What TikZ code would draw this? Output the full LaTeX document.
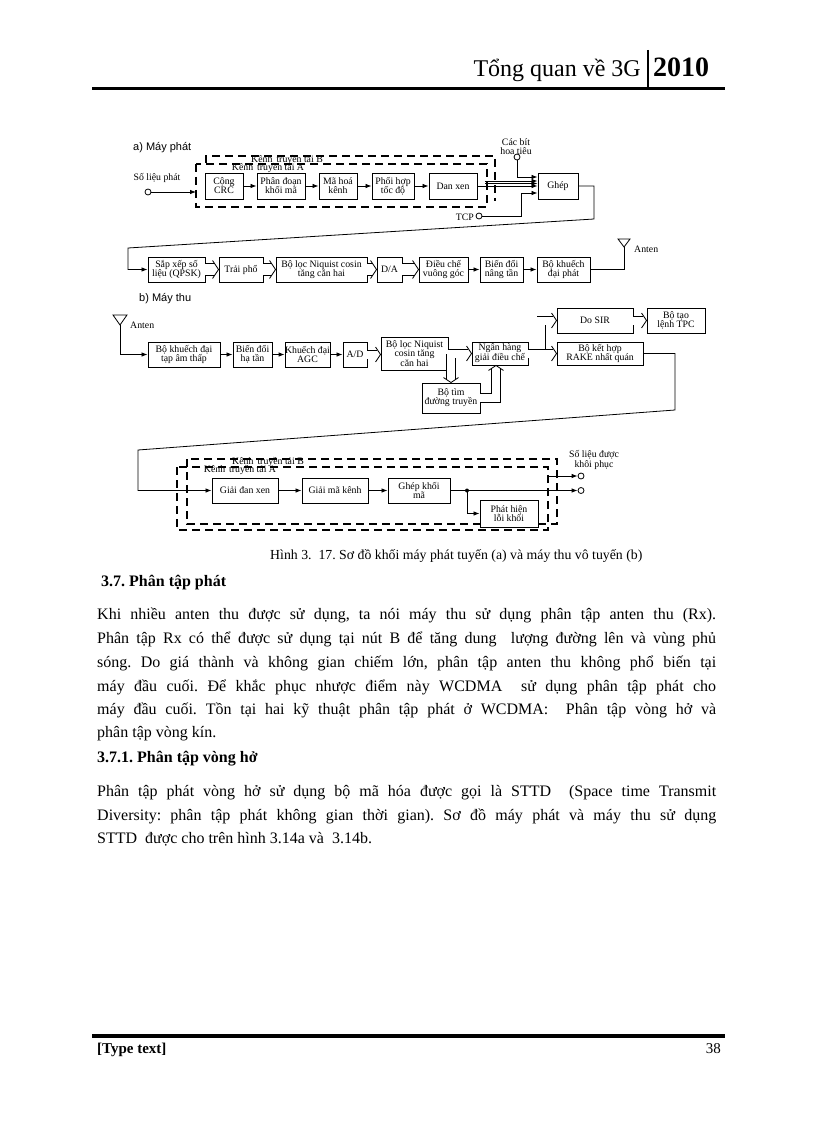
\documentclass[tikz,border=0pt]{standalone}
\usepackage{fontspec}
\setmainfont{Liberation Serif}
\newfontfamily\arialf{Liberation Sans}
\usetikzlibrary{arrows.meta,calc}
\newcommand\bodyf{\fontsize{16}{16}\selectfont}
\frenchspacing
\begin{document}
\begin{tikzpicture}[x=1pt,y=-1pt,
  blk/.style={draw, line width=0.9pt, inner sep=0pt, align=center, fill=white,
    font=\fontsize{9.8}{9.2}\selectfont},
  bsz/.style 2 args={minimum width=#1pt, minimum height=#2pt},
  arr/.style={line width=0.8pt, -{Latex[length=6pt,width=4.5pt]}},
  ln/.style={line width=0.8pt},
  dblA/.style={line width=0.8pt, double, double distance=11pt, shorten >=4.2pt},
  dblB/.style={line width=0.8pt, double, double distance=8pt, shorten >=3.2pt},
  chevA/.pic={\draw[line width=0.8pt, line join=miter] (-6,-9) -- (0,0) -- (-6,9);},
  chevB/.pic={\draw[line width=0.8pt, line join=miter] (-5,-7.5) -- (0,0) -- (-5,7.5);},
  dsh/.style={line width=1.3pt, dash pattern=on 8pt off 5pt},
  lbl/.style={inner sep=0pt, align=center, font=\fontsize{9.8}{9.2}\selectfont},
  term/.style={circle, draw, line width=0.8pt, inner sep=0pt, minimum size=6pt, fill=white},
  txt/.style={inner sep=0pt, anchor=base west, font=\bodyf},
]
\useasboundingbox (0,0) rectangle (816,1123);
\fill[white] (0,0) rectangle (816,1123);

% ---------- header ----------
\node[inner sep=0pt, anchor=base east, font=\fontsize{24}{24}\selectfont] (hdr) at (641,77) {Tổng quan về 3G};
\node[inner sep=0pt, anchor=base west, font=\fontsize{28}{28}\selectfont\bfseries] (year) at (653,77) {2010};
\draw[line width=2pt] (648,50) -- (648,89);
\draw[line width=3pt] (92,89) -- (725,89);

% ---------- (a) transmitter ----------
\node[inner sep=0pt, anchor=base west, font=\arialf\fontsize{11}{11}\selectfont] (la) at (133,151) {a) Máy phát};

\draw[dsh] (196,164) rectangle (487,207);
\draw[dsh] (206,163) -- (206,156) -- (495,156) -- (495,201);
\node[lbl] (kb1) at (287,160) {Kênh\, truyền tải B};
\node[lbl] (ka1) at (268,168) {Kênh\, truyền tải A};

\node[blk, bsz={38}{26}] (crc) at (224,186) {Cộng\\CRC};
\node[blk, bsz={48}{26}] (pd) at (281,186) {Phân đoạn\\khối mã};
\node[blk, bsz={38}{26}] (mhk) at (338,186) {Mã hoá\\kênh};
\node[blk, bsz={42}{26}] (ph) at (393,186) {Phối hợp\\tốc độ};
\node[blk, bsz={48}{26}] (dx) at (453,186) {Dan xen};
\node[blk, bsz={40}{26}] (ghep) at (558,186) {Ghép};

\node[lbl] (slp) at (157,178) {Số liệu phát};
\node[term] (src) at (148,192) {};
\coordinate (aL) at (196,192);
\draw[arr] (src) -- (aL);
\draw[arr] (crc) -- (pd);
\draw[arr] (pd) -- (mhk);
\draw[arr] (mhk) -- (ph);
\draw[arr] (ph) -- (dx);
\draw[arr] (dx.east) -- (ghep.west);
\coordinate (b1) at (485,181);
\coordinate (b2) at (485,183.5);
\draw[arr] (b1) -- (b1 -| ghep.west);
\draw[arr] (b2) -- (b2 -| ghep.west);

\node[lbl] (pilt) at (516,147) {Các bít\\hoa tiêu};
\node[term] (pil) at (517,157) {};
\draw[arr] (pil) |- ($(ghep.west)+(0,-9)$);
\node[term] (tcp) at (479,216) {};
\node[lbl, anchor=east] (tcpl) at (474,217) {TCP};
\draw[arr] (tcp.east) -- ++(39,0) |- ($(ghep.west)+(0,7)$);

\coordinate (g1) at (594,219);
\coordinate (g2) at (128,248);
\node[blk, bsz={57}{25}] (sx) at (176.5,269.5) {Sắp xếp số\\liệu (QPSK)};
\draw[arr] (ghep.east) -| (g1) -- (g2) |- (sx.west);

\node[blk, bsz={44}{25}] (tp) at (241,269.5) {Trải phổ};
\node[blk, bsz={91}{25}] (bl) at (321.5,269.5) {Bộ lọc Niquist cosin\\tăng căn hai};
\node[blk, bsz={25}{25}] (da) at (389.5,269.5) {D/A};
\node[blk, bsz={49}{25}] (dc) at (443.5,269.5) {Điều chế\\vuông góc};
\node[blk, bsz={43}{25}] (bd) at (501.5,269.5) {Biến đổi\\nâng tần};
\node[blk, bsz={53}{25}] (bk) at (563.5,269.5) {Bộ khuếch\\đại phát};

\draw[dblA] (sx) -- (tp);  \pic at (tp.west) {chevA};
\draw[dblA] (tp) -- (bl);  \pic at (bl.west) {chevA};
\draw[dblA] (bl) -- (da);  \pic at (da.west) {chevA};
\draw[dblA] (da) -- (dc);  \pic at (dc.west) {chevA};
\draw[arr] (dc) -- (bd);
\draw[arr] (bd) -- (bk);

\coordinate (ant1) at (624,247);
\draw[ln] (bk.east) -| (ant1);
\draw[ln] (618,239) -- (630,239) -- (ant1) -- cycle;
\node[lbl, anchor=west] (an1) at (634,249) {Anten};

% ---------- (b) receiver ----------
\node[inner sep=0pt, anchor=base west, font=\arialf\fontsize{11}{11}\selectfont] (lb) at (139,301) {b) Máy thu};

\coordinate (ant2) at (120,325);
\draw[ln] (113,315) -- (127,315) -- (ant2) -- cycle;
\node[lbl, anchor=west] (an2) at (130,325) {Anten};

\node[blk, bsz={72}{25}] (lna) at (184,354.5) {Bộ khuếch đại\\tạp âm thấp};
\node[blk, bsz={39}{25}] (hd) at (252.5,354.5) {Biến đổi\\hạ tần};
\node[blk, bsz={43}{25}] (agc) at (307.5,354.5) {Khuếch đại\\AGC};
\node[blk, bsz={24}{25}] (ad) at (355,354.5) {A/D};
\node[blk, bsz={67}{33}] (bl2) at (414.5,353.5) {Bộ lọc Niquist\\cosin tăng\\căn hai};
\node[blk, bsz={56}{23}] (nh) at (500,353.5) {Ngân hàng\\giải điều chế};
\node[blk, bsz={58}{30}] (bt) at (451,398) {Bộ tìm\\đường truyền};
\node[blk, bsz={76}{25}] (sir) at (595,320.5) {Do SIR};
\node[blk, bsz={58}{25}] (tpc) at (676,320.5) {Bộ tạo\\lệnh TPC};
\node[blk, bsz={86}{23}] (rake) at (600,353.5) {Bộ kết hợp\\RAKE nhất quán};

\draw[arr] (ant2) |- (lna.west);
\draw[arr] (lna) -- (hd);
\draw[arr] (hd) -- (agc);
\draw[arr] (agc.east) -- (agc.east -| ad.west);
\draw[dblB] (ad.east) -- (ad.east -| bl2.west);  \pic at (ad.east -| bl2.west) {chevB};
\coordinate (j1) at (bt.north |- bl2.east);
\draw[dblB] (j1) -- (bt.north);  \pic[rotate=-90] at (bt.north) {chevB};
\draw[dblB] (bl2.east) -- (nh.west);  \pic at (nh.west) {chevB};
\coordinate (nhs) at ($(nh.south)+(-4,0)$);
\draw[dblB] (bt.east) -| (nhs);  \pic[rotate=90] at (nhs) {chevB};
\coordinate (j2) at ($(nh.east)+(13,0)$);
\draw[dblB] (j2) |- (sir.west);  \pic at (sir.west) {chevB};
\draw[dblB] (nh.east) -- (rake.west);  \pic at (rake.west) {chevB};
\draw[dblB] (sir) -- (tpc);  \pic at (tpc.west) {chevB};

\coordinate (r1) at (675,410);
\coordinate (r2) at (138,450);
\node[blk, bsz={66}{25}] (gdx) at (245,490.5) {Giải đan xen};
\draw[arr] (rake.east) -| (r1) -- (r2) |- (gdx.west);

\draw[dsh] (177,467) rectangle (548,530);
\draw[dsh] (187,459) rectangle (557,524);
\node[lbl] (kb2) at (268,462) {Kênh\, truyền tải B};
\node[lbl] (ka2) at (240,470) {Kênh\, truyền tải A};

\node[blk, bsz={66}{25}] (gmk) at (335,490.5) {Giải mã kênh};
\node[blk, bsz={62}{25}] (gkm) at (419,490.5) {Ghép khối\\mã};
\node[blk, bsz={58}{27}] (phl) at (509,513.5) {Phát hiện\\lỗi khối};
\draw[arr] (gdx) -- (gmk);
\draw[arr] (gmk) -- (gkm);

\node[term] (o1) at (581,476) {};
\node[term] (o2) at (581,490.5) {};
\coordinate (dt) at (467,490.5);
\coordinate (c1) at (548,476);
\draw[arr] (gkm.east) -- (o2.west);
\fill (dt) circle[radius=2pt];
\draw[arr] (dt) |- (phl.west);
\draw[arr] (c1) -- (o1.west);
\node[lbl] (sld) at (594,460) {Số liệu được\\khôi phục};

% ---------- caption and text ----------
\node[inner sep=0pt, anchor=base west, font=\fontsize{13.8}{13.8}\selectfont] (cap) at (270,559)
  {Hình 3.\ \ 17. Sơ đồ khối máy phát tuyến (a) và máy thu vô tuyến (b)};

\node[txt, font=\bodyf\bfseries] (h1) at (101,586) {3.7. Phân tập phát};
\node[txt] (p1) at (97,619) {\makebox[619pt][s]{Khi nhiều anten thu được sử dụng, ta nói máy thu sử dụng phân tập anten thu (Rx).}};
\node[txt] (p2) at (97,643) {\makebox[619pt][s]{Phân tập Rx có thể được sử dụng tại nút B để tăng dung\ \ lượng đường lên và vùng phủ}};
\node[txt] (p3) at (97,667) {\makebox[619pt][s]{sóng. Do giá thành và không gian chiếm lớn, phân tập anten thu không phổ biến tại}};
\node[txt] (p4) at (97,691) {\makebox[619pt][s]{máy đầu cuối. Để khắc phục nhược điểm này WCDMA\ \ sử dụng phân tập phát cho}};
\node[txt] (p5) at (97,714) {\makebox[619pt][s]{máy đầu cuối. Tồn tại hai kỹ thuật phân tập phát ở WCDMA:\ \ Phân tập vòng hở và}};
\node[txt] (p6) at (97,737) {phân tập vòng kín.};
\node[txt, font=\bodyf\bfseries] (h2) at (97,762) {3.7.1. Phân tập vòng hở};
\node[txt] (q1) at (97,796) {\makebox[619pt][s]{Phân tập phát vòng hở sử dụng bộ mã hóa được gọi là STTD\ \ (Space time Transmit}};
\node[txt] (q2) at (97,820) {\makebox[619pt][s]{Diversity: phân tập phát không gian thời gian). Sơ đồ máy phát và máy thu sử dụng}};
\node[txt] (q3) at (97,843) {STTD\ \ được cho trên hình 3.14a và\ \ 3.14b.};

% ---------- footer ----------
\draw[line width=4.5pt] (92,1036) -- (725,1036);
\node[inner sep=0pt, anchor=base west, font=\fontsize{15}{15}\selectfont\bfseries] (ft) at (97,1053) {[Type text]};
\node[inner sep=0pt, anchor=base east, font=\fontsize{15}{15}\selectfont] (pg) at (721,1053) {38};
\end{tikzpicture}
\end{document}
